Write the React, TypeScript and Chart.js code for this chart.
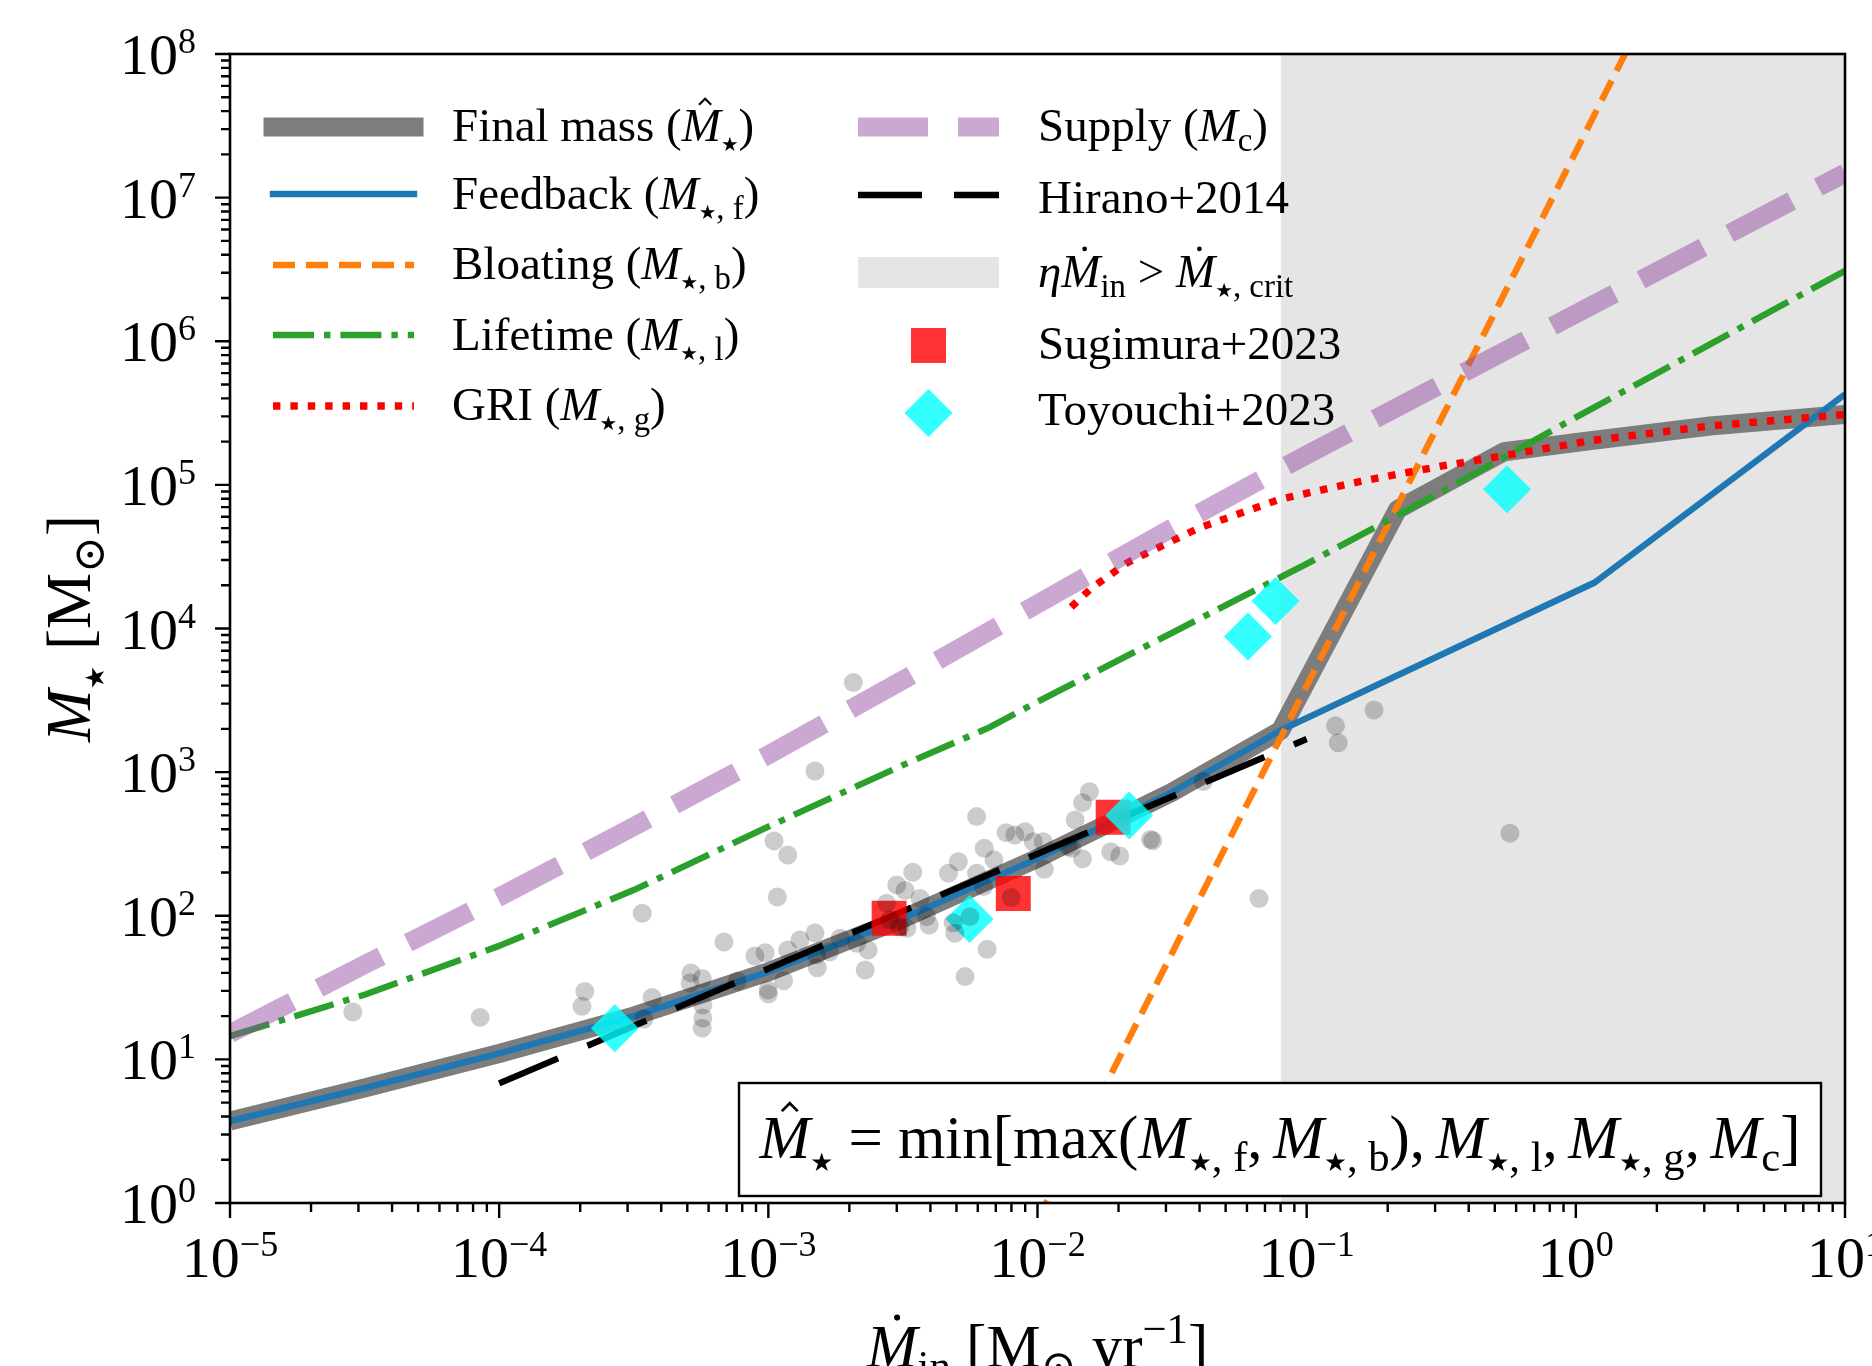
import React, { useEffect, useRef } from 'react';
import { Chart, registerables } from 'chart.js';

Chart.register(...registerables);

const W = 1872;
const H = 1366;
const SERIF = '"Liberation Serif", "Times New Roman", "DejaVu Serif", serif';
const SYMBOL = '"DejaVu Sans", "Noto Sans", sans-serif';
const STAR = '\u2605';
const ODOT = '\u2299';
const MINUS = '\u2212';

// ---------------- axes ----------------
const xRange = [1e-5, 10];
const yRange = [1, 1e8];
const xMajorTicks = [1e-5, 1e-4, 1e-3, 1e-2, 1e-1, 1, 10];
const xTickExponents = [MINUS + '5', MINUS + '4', MINUS + '3', MINUS + '2', MINUS + '1', '0', '1'];
const yMajorTicks = [1, 10, 100, 1e3, 1e4, 1e5, 1e6, 1e7, 1e8];
const yTickExponents = ['0', '1', '2', '3', '4', '5', '6', '7', '8'];
const minorMultipliers = [2, 3, 4, 5, 6, 7, 8, 9];

// ---------------- model curves ----------------
const feedbackX = [1e-5, 3.16e-5, 1e-4, 3.16e-4, 1e-3, 3.16e-3, 1e-2, 3.16e-2, 0.08, 1.175, 10];
const feedbackY = [3.72, 6.31, 11.0, 20.0, 40.7, 95.5, 251, 724, 1950, 20900, 427000];

const finalX = [1e-5, 3.16e-5, 1e-4, 3.16e-4, 1e-3, 3.16e-3, 1e-2, 3.16e-2, 0.08, 0.218, 0.54, 1.156, 3.16, 10];
const finalY = [3.72, 6.31, 11.0, 20.0, 40.7, 95.5, 251, 724, 1950, 67600, 170000, 204000, 257000, 309000];

const bloatingX = [0.01, 1.585];
const bloatingY = [0.759, 1.16e8];

const lifetimeX = [1e-5, 3.16e-5, 1e-4, 3.16e-4, 1e-3, 3.16e-3, 6.6e-3, 1e-2, 3.16e-2, 0.1, 0.316, 1, 3.16, 10];
const lifetimeY = [14.5, 28.2, 61.7, 151, 417, 1120, 2040, 3090, 9330, 28200, 89100, 295000, 955000, 3.09e6];

const griX = [0.01334, 0.01585, 0.02163, 0.0316, 0.0398, 0.0794, 0.163, 0.316, 0.425, 1.156, 3.16, 10];
const griY = [14100, 19100, 28800, 40700, 50100, 79400, 107000, 135000, 148000, 204000, 257000, 309000];

const supplyX = [1e-5, 3.16e-5, 1e-4, 3.16e-4, 1e-3, 3.16e-3, 1e-2, 3.16e-2, 0.1, 0.316, 1, 3.16, 10];
const supplyY = [15.1, 45.7, 135, 417, 1320, 4370, 14800, 50100, 162000, 501000, 1.55e6, 4.79e6, 1.48e7];

const hiranoX = [1e-4, 0.1];
const hiranoY = [6.8, 1700];

// shaded region  eta*Mdot_in > Mdot_crit
const critX = [0.08, 10];
const critY = [2e8, 2e8];

// ---------------- simulation points ----------------
const simX = [
  2.86e-5, 8.5e-5, 2.03e-4, 2.08e-4, 3.40e-4, 3.70e-4, 3.45e-4, 5.16e-4, 5.12e-4, 5.68e-4,
  5.71e-4, 5.71e-4, 5.68e-4, 7.66e-4, 6.84e-4, 2.07e-3, 1.49e-3, 1.05e-3, 1.18e-3, 1.08e-3,
  8.91e-4, 9.73e-4, 9.98e-4, 1.0e-3, 1.14e-3, 1.18e-3, 1.31e-3, 1.49e-3, 1.51e-3, 1.52e-3,
  1.69e-3, 1.85e-3, 2.13e-3, 2.35e-3, 2.29e-3, 2.75e-3, 3.00e-3, 3.22e-3, 3.44e-3, 2.83e-3,
  3.08e-3, 3.27e-3, 3.66e-3, 3.87e-3, 3.96e-3, 4.67e-3, 5.08e-3, 4.86e-3, 4.93e-3, 5.61e-3,
  5.94e-3, 6.34e-3, 5.94e-3, 6.30e-3, 6.89e-3, 6.50e-3, 5.38e-3, 7.64e-3, 8.24e-3, 8.99e-3,
  9.64e-3, 1.05e-2, 1.06e-2, 7.98e-3, 1.30e-2, 1.38e-2, 1.47e-2, 1.56e-2, 1.47e-2, 1.34e-2,
  1.87e-2, 2.02e-2, 2.63e-2, 2.68e-2, 4.13e-2, 0.178, 0.128, 0.131, 0.569, 0.0665,
];
const simY = [
  21.4, 19.6, 23.4, 29.7, 104, 27.0, 19.1, 40.0, 34.0, 36.6,
  23.9, 19.4, 16.5, 35.1, 65.7, 4210, 1019, 332, 265, 135,
  52.5, 55.3, 30.4, 28.5, 35.3, 57.8, 67.8, 75.9, 53.3, 43.5,
  56.2, 69.7, 64.3, 57.8, 41.9, 122, 164, 150, 201, 93.5,
  83.9, 81.8, 132, 98.6, 86.3, 198, 238, 89.5, 75.5, 98.6,
  490, 295, 198, 160, 245, 58.4, 37.7, 379, 365, 385,
  328, 328, 211, 134, 303, 464, 613, 731, 249, 295,
  279, 261, 340, 333, 859, 2710, 2100, 1600, 375, 132,
];

const sugimuraX = [2.81e-3, 8.13e-3, 1.91e-2];
const sugimuraY = [96.0, 143, 485];

const toyouchiX = [2.69e-4, 5.59e-3, 2.19e-2, 0.0605, 0.0766, 0.555];
const toyouchiY = [16.5, 95.0, 498, 8790, 15560, 93300];

// ---------------- styles ----------------
const ST = {
  final: { color: 'rgb(125,125,125)', width: 19, dash: [] as number[] },
  feedback: { color: '#1f77b4', width: 6.4, dash: [] as number[] },
  bloating: { color: '#ff7f0e', width: 6.4, dash: [22, 11] },
  lifetime: { color: '#2ca02c', width: 6.4, dash: [41, 10, 6.4, 10] },
  gri: { color: '#ff0000', width: 7.4, dash: [7.4, 10] },
  supply: { color: 'rgba(145,70,160,0.47)', width: 19, dash: [70, 30] },
  hirano: { color: '#000000', width: 6.4, dash: [64, 32] },
};
const SIM_COLOR = 'rgba(0,0,0,0.2)';
const SUG_COLOR = 'rgba(255,0,0,0.8)';
const TOY_COLOR = 'rgba(0,255,255,0.8)';
const CRIT_COLOR = 'rgb(229,229,229)';

// ---------------- rich text ----------------
type Seg = { t: string; it?: boolean; sub?: boolean; sup?: boolean; star?: boolean; acc?: 'hat' | 'dot' };
const SUB_SCALE = 0.7;
const SUB_SHIFT = 0.22;
const SUP_SHIFT = 0.4;

function fontFor(seg: Seg, size: number) {
  if (seg.star) return `${size * 0.42}px ${SYMBOL}`;
  const s = seg.sub || seg.sup ? size * SUB_SCALE : size;
  return `${seg.it ? 'italic ' : ''}${s}px ${SERIF}`;
}
function richWidth(ctx: CanvasRenderingContext2D, segs: Seg[], size: number) {
  let w = 0;
  for (const s of segs) {
    ctx.font = fontFor(s, size);
    w += ctx.measureText(s.t).width;
  }
  return w;
}
function drawRich(ctx: CanvasRenderingContext2D, segs: Seg[], x: number, y: number, size: number, align = 'left') {
  const w = richWidth(ctx, segs, size);
  let cx = align === 'center' ? x - w / 2 : align === 'right' ? x - w : x;
  ctx.textAlign = 'left';
  ctx.textBaseline = 'alphabetic';
  ctx.fillStyle = '#000';
  for (const s of segs) {
    ctx.font = fontFor(s, size);
    const dy = s.sub ? size * SUB_SHIFT : s.sup ? -size * SUP_SHIFT : 0;
    ctx.fillText(s.t, cx, y + dy);
    const sw = ctx.measureText(s.t).width;
    if (s.acc) {
      const mx = cx + sw * 0.5 + size * 0.08;
      ctx.save();
      ctx.strokeStyle = '#000';
      ctx.fillStyle = '#000';
      ctx.beginPath();
      if (s.acc === 'hat') {
        ctx.lineWidth = size * 0.045;
        ctx.moveTo(mx - size * 0.13, y - size * 0.77);
        ctx.lineTo(mx, y - size * 0.9);
        ctx.lineTo(mx + size * 0.13, y - size * 0.77);
        ctx.stroke();
      } else {
        ctx.arc(mx, y - size * 0.81, size * 0.05, 0, Math.PI * 2);
        ctx.fill();
      }
      ctx.restore();
    }
    cx += sw;
  }
  return w;
}

const STAR_SEG: Seg = { t: STAR, sub: true, star: true };
const mSub = (sub: string, acc?: 'hat' | 'dot'): Seg[] => [{ t: 'M', it: true, acc }, { t: sub, sub: true }];
const mStar = (rest: string, acc?: 'hat' | 'dot'): Seg[] =>
  rest ? [{ t: 'M', it: true, acc }, STAR_SEG, { t: rest, sub: true }] : [{ t: 'M', it: true, acc }, STAR_SEG];

const legendLeft: { segs: Seg[]; y: number; base: number; st: any }[] = [
  { segs: [{ t: 'Final mass (' }, ...mStar('', 'hat'), { t: ')' }], y: 127, base: 141, st: ST.final },
  { segs: [{ t: 'Feedback (' }, ...mStar(', f'), { t: ')' }], y: 194, base: 209, st: ST.feedback },
  { segs: [{ t: 'Bloating (' }, ...mStar(', b'), { t: ')' }], y: 265, base: 279, st: ST.bloating },
  { segs: [{ t: 'Lifetime (' }, ...mStar(', l'), { t: ')' }], y: 335, base: 350, st: ST.lifetime },
  { segs: [{ t: 'GRI (' }, ...mStar(', g'), { t: ')' }], y: 406, base: 420, st: ST.gri },
];
const legendSupply: Seg[] = [{ t: 'Supply (' }, ...mSub('c'), { t: ')' }];
const legendHirano: Seg[] = [{ t: 'Hirano+2014' }];
const legendCrit: Seg[] = [{ t: '\u03B7', it: true }, ...mSub('in', 'dot'), { t: ' > ' }, ...mStar(', crit', 'dot')];
const legendSug: Seg[] = [{ t: 'Sugimura+2023' }];
const legendToy: Seg[] = [{ t: 'Toyouchi+2023' }];

const COMMA: Seg[] = [{ t: ',' }, { t: ' ', sub: true }];
const formula: Seg[] = [
  ...mStar('', 'hat'), { t: ' = min[max(' }, ...mStar(', f'), ...COMMA, ...mStar(', b'),
  { t: ')' }, ...COMMA, ...mStar(', l'), ...COMMA, ...mStar(', g'), ...COMMA, ...mSub('c'), { t: ']' },
];
const yLabel: Seg[] = [...mStar(''), { t: ' [M' }, { t: ODOT, sub: true }, { t: ']' }];
const xLabel: Seg[] = [...mSub('in', 'dot'), { t: ' [M' }, { t: ODOT, sub: true }, { t: ' yr' }, { t: MINUS + '1', sup: true }, { t: ']' }];

function handleLine(ctx: CanvasRenderingContext2D, x1: number, x2: number, y: number, st: any, cap: CanvasLineCap) {
  ctx.save();
  ctx.beginPath();
  ctx.strokeStyle = st.color;
  ctx.lineWidth = st.width;
  ctx.setLineDash(st.dash);
  ctx.lineCap = cap;
  ctx.moveTo(x1, y);
  ctx.lineTo(x2, y);
  ctx.stroke();
  ctx.restore();
}

const TICK_MAIN = 58;
const TICK_EXP = 36;
const TICK_RAISE = 21;
function drawPow(ctx: CanvasRenderingContext2D, exp: string, x: number, base: number, align: string) {
  ctx.font = `${TICK_MAIN}px ${SERIF}`;
  const w1 = ctx.measureText('10').width;
  ctx.font = `${TICK_EXP}px ${SERIF}`;
  const w2 = ctx.measureText(exp).width;
  const x0 = align === 'center' ? x - (w1 + w2) / 2 : x - (w1 + w2);
  ctx.textAlign = 'left';
  ctx.textBaseline = 'alphabetic';
  ctx.fillStyle = '#000';
  ctx.font = `${TICK_MAIN}px ${SERIF}`;
  ctx.fillText('10', x0, base);
  ctx.font = `${TICK_EXP}px ${SERIF}`;
  ctx.fillText(exp, x0 + w1, base - TICK_RAISE);
}

const decor = {
  id: 'decor',
  beforeDraw(chart: any) {
    const ctx = chart.ctx;
    ctx.save();
    ctx.fillStyle = '#ffffff';
    ctx.fillRect(0, 0, chart.width, chart.height);
    ctx.restore();
  },
  afterDatasetsDraw(chart: any) {
    const ctx: CanvasRenderingContext2D = chart.ctx;
    const a = chart.chartArea;
    const xs = chart.scales.x;
    const ys = chart.scales.y;
    ctx.save();

    // formula box
    const bx = 739, by = 1083, bw = 1082, bh = 113;
    ctx.fillStyle = '#fff';
    ctx.fillRect(bx, by, bw, bh);
    ctx.strokeStyle = '#000';
    ctx.lineWidth = 2.4;
    ctx.strokeRect(bx, by, bw, bh);
    let fs = 58;
    const fw = richWidth(ctx, formula, fs);
    fs = Math.max(50, Math.min(64, fs * 1041 / fw));
    drawRich(ctx, formula, bx + bw / 2, 1158, fs, 'center');

    // frame
    ctx.strokeStyle = '#000';
    ctx.lineWidth = 2.6;
    ctx.setLineDash([]);
    ctx.strokeRect(a.left, a.top, a.right - a.left, a.bottom - a.top);

    // ticks
    ctx.lineWidth = 2.4;
    ctx.lineCap = 'butt';
    ctx.beginPath();
    xMajorTicks.forEach((v, i) => {
      const px = xs.getPixelForValue(v);
      ctx.moveTo(px, a.bottom);
      ctx.lineTo(px, a.bottom + 15);
      if (i < xMajorTicks.length - 1) {
        minorMultipliers.forEach((m) => {
          const p = xs.getPixelForValue(v * m);
          ctx.moveTo(p, a.bottom);
          ctx.lineTo(p, a.bottom + 9);
        });
      }
    });
    yMajorTicks.forEach((v, i) => {
      const py = ys.getPixelForValue(v);
      ctx.moveTo(a.left, py);
      ctx.lineTo(a.left - 15, py);
      if (i < yMajorTicks.length - 1) {
        minorMultipliers.forEach((m) => {
          const p = ys.getPixelForValue(v * m);
          ctx.moveTo(a.left, p);
          ctx.lineTo(a.left - 9, p);
        });
      }
    });
    ctx.stroke();

    // tick labels
    xMajorTicks.forEach((v, i) => drawPow(ctx, xTickExponents[i], xs.getPixelForValue(v), a.bottom + 74, 'center'));
    yMajorTicks.forEach((v, i) => drawPow(ctx, yTickExponents[i], a.left - 34, ys.getPixelForValue(v) + 20, 'right'));

    // axis titles
    drawRich(ctx, xLabel, (a.left + a.right) / 2, 1367, 61, 'center');
    ctx.save();
    ctx.translate(90, (a.top + a.bottom) / 2);
    ctx.rotate(-Math.PI / 2);
    drawRich(ctx, yLabel, 0, 0, 63, 'center');
    ctx.restore();

    // legend, left column
    const LS = 47;
    legendLeft.forEach((e) => {
      handleLine(ctx, 273, 414, e.y, e.st, e.st.dash.length ? 'butt' : 'square');
      drawRich(ctx, e.segs, 452, e.base, LS);
    });
    // legend, right column
    handleLine(ctx, 858, 999, 127, ST.supply, 'butt');
    drawRich(ctx, legendSupply, 1038, 141, LS);
    handleLine(ctx, 858, 999, 195, ST.hirano, 'butt');
    drawRich(ctx, legendHirano, 1038, 213, LS);
    ctx.fillStyle = CRIT_COLOR;
    ctx.fillRect(858, 257, 141, 31);
    drawRich(ctx, legendCrit, 1038, 287, LS);
    ctx.fillStyle = SUG_COLOR;
    ctx.fillRect(928.5 - 17.5, 345.5 - 17.5, 35, 35);
    drawRich(ctx, legendSug, 1038, 359, LS);
    ctx.fillStyle = TOY_COLOR;
    ctx.beginPath();
    ctx.moveTo(928.5 - 24, 413);
    ctx.lineTo(928.5, 413 - 24);
    ctx.lineTo(928.5 + 24, 413);
    ctx.lineTo(928.5, 413 + 24);
    ctx.closePath();
    ctx.fill();
    drawRich(ctx, legendToy, 1038, 425, LS);

    ctx.restore();
  },
};

const pts = (xs: number[], ys: number[]) => xs.map((x, i) => ({ x, y: ys[i] }));

function lineDs(label: string, xs: number[], ys: number[], st: any, order: number) {
  return {
    label,
    data: pts(xs, ys),
    showLine: true,
    borderColor: st.color,
    backgroundColor: st.color,
    borderWidth: st.width,
    borderDash: st.dash,
    borderCapStyle: 'butt',
    borderJoinStyle: 'round',
    pointRadius: 0,
    pointHoverRadius: 0,
    fill: false,
    tension: 0,
    clip: 0,
    order,
  };
}

export default function App() {
  const ref = useRef<HTMLCanvasElement>(null);
  useEffect(() => {
    const canvas = ref.current;
    if (!canvas) return;
    const chart = new Chart(canvas, {
      type: 'scatter',
      data: {
        datasets: [
          {
            label: 'sims',
            data: pts(simX, simY),
            pointStyle: 'circle',
            pointRadius: 9.5,
            pointHoverRadius: 9.5,
            backgroundColor: SIM_COLOR,
            borderWidth: 0,
            order: 0,
          },
          {
            label: 'Toyouchi+2023',
            data: pts(toyouchiX, toyouchiY),
            pointStyle: 'rectRot',
            pointRadius: 24,
            pointHoverRadius: 24,
            backgroundColor: TOY_COLOR,
            borderWidth: 0,
            order: 1,
          },
          {
            label: 'Sugimura+2023',
            data: pts(sugimuraX, sugimuraY),
            pointStyle: 'rect',
            pointRadius: 24.7,
            pointHoverRadius: 24.7,
            backgroundColor: SUG_COLOR,
            borderWidth: 0,
            order: 2,
          },
          lineDs('Hirano+2014', hiranoX, hiranoY, ST.hirano, 3),
          lineDs('Supply', supplyX, supplyY, ST.supply, 4),
          lineDs('GRI', griX, griY, ST.gri, 5),
          lineDs('Lifetime', lifetimeX, lifetimeY, ST.lifetime, 6),
          lineDs('Bloating', bloatingX, bloatingY, ST.bloating, 7),
          lineDs('Feedback', feedbackX, feedbackY, ST.feedback, 8),
          lineDs('Final mass', finalX, finalY, ST.final, 9),
          {
            label: 'crit',
            data: pts(critX, critY),
            showLine: true,
            borderWidth: 0,
            borderColor: 'rgba(0,0,0,0)',
            backgroundColor: CRIT_COLOR,
            pointRadius: 0,
            pointHoverRadius: 0,
            fill: 'start',
            tension: 0,
            clip: 0,
            order: 10,
          },
        ],
      } as any,
      options: {
        responsive: false,
        animation: false,
        devicePixelRatio: 1,
        events: [],
        layout: { padding: { left: 230, right: 27, top: 54, bottom: 163 } },
        plugins: { legend: { display: false }, tooltip: { enabled: false } },
        scales: {
          x: { type: 'logarithmic', min: xRange[0], max: xRange[1], display: false },
          y: { type: 'logarithmic', min: yRange[0], max: yRange[1], display: false },
        },
      } as any,
      plugins: [decor],
    });
    return () => chart.destroy();
  }, []);
  return (
    <div style={{ position: 'absolute', left: 0, top: 0, width: W, height: H, background: '#fff' }}>
      <canvas ref={ref} width={W} height={H} style={{ display: 'block', width: W, height: H }} />
    </div>
  );
}
